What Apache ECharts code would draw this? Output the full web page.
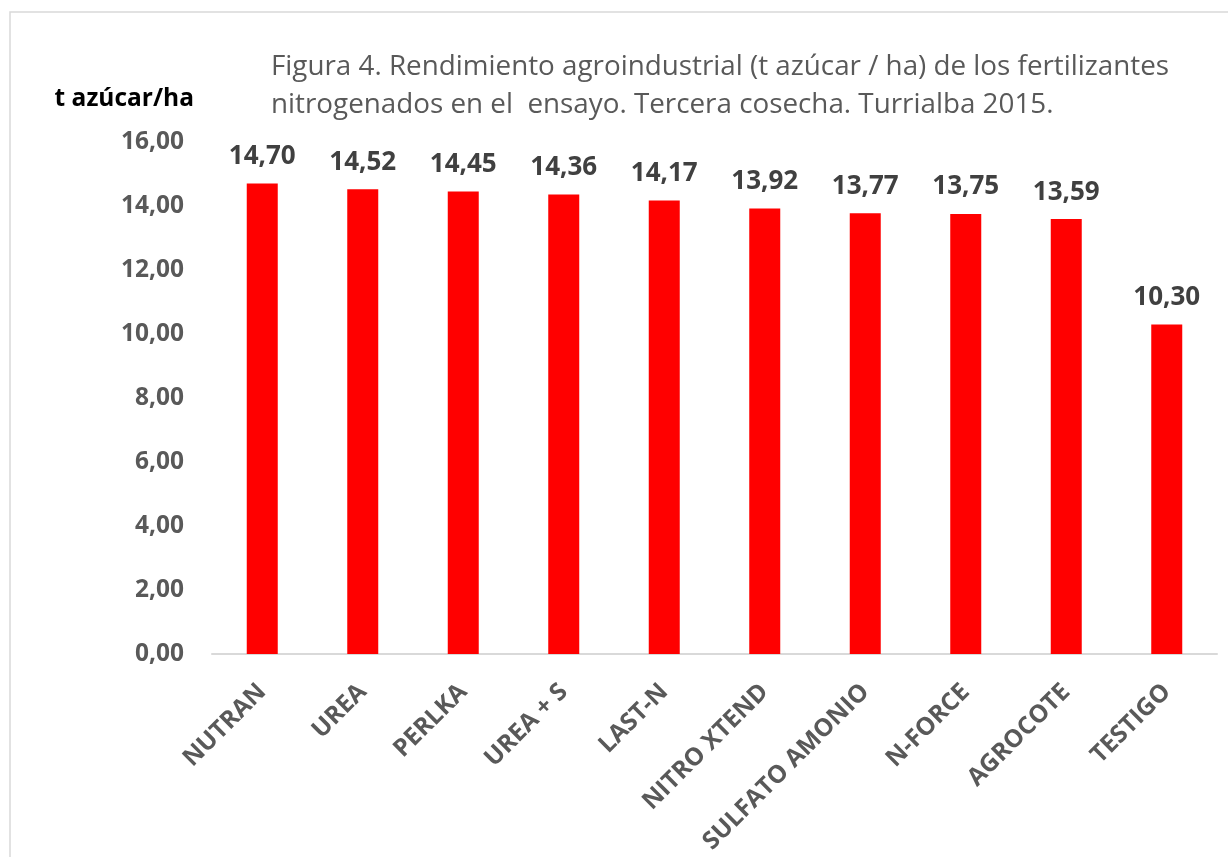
<!DOCTYPE html>
<html>
<head>
<meta charset="utf-8">
<script src="https://cdn.jsdelivr.net/npm/echarts@6/dist/echarts.min.js"></script>
<style>
  html, body { margin: 0; padding: 0; background: #fff; }
  #chart { width: 1228px; height: 857px; }
</style>
</head>
<body>
<div id="chart"></div>
<script>
var categories = ['NUTRAN', 'UREA', 'PERLKA', 'UREA + S', 'LAST-N', 'NITRO XTEND', 'SULFATO AMONIO', 'N-FORCE', 'AGROCOTE', 'TESTIGO'];
var rendimiento = [14.70, 14.52, 14.45, 14.36, 14.17, 13.92, 13.77, 13.75, 13.59, 10.30];
var titleLines = [
    'Figura 4. Rendimiento agroindustrial (t azúcar / ha) de los fertilizantes',
    'nitrogenados en el  ensayo. Tercera cosecha. Turrialba 2015.'
];
var yName = 't azúcar/ha';

function coma(v) {
    return v.toFixed(2).replace('.', ',');
}

var chart = echarts.init(document.getElementById('chart'));
chart.setOption({
    backgroundColor: '#fff',
    textStyle: { fontFamily: 'Open Sans' },
    title: {
        text: titleLines.join('\n'),
        left: 266,
        top: 43,
        textStyle: {
            color: '#595959',
            fontSize: 27.8,
            fontWeight: 'normal',
            lineHeight: 38
        }
    },
    graphic: [{
        type: 'rect',
        shape: { x: 10, y: 12, width: 1240, height: 870 },
        style: { fill: 'none', stroke: '#d9d9d9', lineWidth: 1.5 },
        silent: true
    }],
    grid: {
        left: 212,
        right: 11,
        top: 142,
        bottom: 203
    },
    xAxis: {
        type: 'category',
        data: categories,
        axisLine: { lineStyle: { color: '#d9d9d9', width: 2 } },
        axisTick: { show: false },
        axisLabel: {
            rotate: 45,
            margin: 34,
            color: '#595959',
            fontSize: 24.5,
            fontWeight: 'bold',
            interval: 0
        }
    },
    yAxis: {
        type: 'value',
        min: 0,
        max: 16,
        interval: 2,
        name: yName,
        nameLocation: 'end',
        nameGap: 0,
        nameTextStyle: {
            color: '#000',
            fontSize: 24.5,
            fontWeight: 'bold',
            align: 'right',
            verticalAlign: 'bottom',
            padding: [0, 18, 30, 0]
        },
        splitLine: { show: false },
        axisLine: { show: false },
        axisTick: { show: false },
        axisLabel: {
            color: '#595959',
            fontSize: 24.5,
            fontWeight: 'bold',
            margin: 28,
            formatter: coma
        }
    },
    series: [{
        type: 'bar',
        data: rendimiento,
        barWidth: 31,
        itemStyle: { color: '#ff0000' },
        label: {
            show: true,
            position: 'top',
            distance: 14,
            color: '#404040',
            fontSize: 26,
            fontWeight: 'bold',
            formatter: function (p) { return coma(p.value); }
        }
    }]
});
</script>
</body>
</html>
